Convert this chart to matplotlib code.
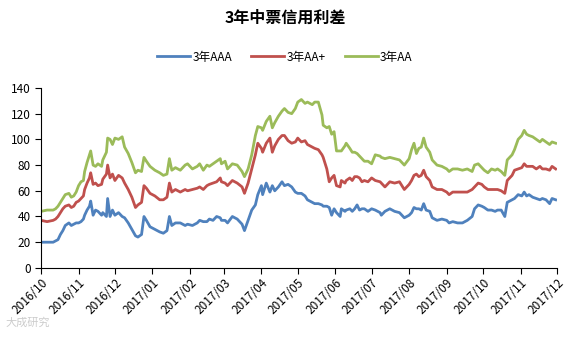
import pandas as pd
import matplotlib
matplotlib.use("Agg")
import matplotlib.pyplot as plt
import matplotlib.dates as mdates

plt.rcParams['font.family'] = ['Noto Sans CJK SC', 'DejaVu Sans']

# data (bp)
dates = [
    "2016-10-01", "2016-10-06", "2016-10-11", "2016-10-13", "2016-10-15", "2016-10-17",
    "2016-10-19", "2016-10-21", "2016-10-24", "2016-10-26", "2016-10-28", "2016-10-30",
    "2016-11-01", "2016-11-03", "2016-11-05", "2016-11-06", "2016-11-08", "2016-11-10",
    "2016-11-11", "2016-11-13", "2016-11-15", "2016-11-17", "2016-11-20", "2016-11-21",
    "2016-11-24", "2016-11-25", "2016-11-27", "2016-11-29", "2016-12-01", "2016-12-04",
    "2016-12-07", "2016-12-09", "2016-12-12", "2016-12-15", "2016-12-18", "2016-12-20",
    "2016-12-23", "2016-12-25", "2016-12-27", "2016-12-30", "2017-01-03", "2017-01-07",
    "2017-01-10", "2017-01-13", "2017-01-15", "2017-01-17", "2017-01-20", "2017-01-24",
    "2017-01-28", "2017-01-30", "2017-02-03", "2017-02-07", "2017-02-09", "2017-02-12",
    "2017-02-15", "2017-02-17", "2017-02-20", "2017-02-23", "2017-02-26", "2017-02-27",
    "2017-03-02", "2017-03-04", "2017-03-08", "2017-03-12", "2017-03-16", "2017-03-18",
    "2017-03-21", "2017-03-24", "2017-03-27", "2017-03-29", "2017-04-01", "2017-04-02",
    "2017-04-05", "2017-04-08", "2017-04-10", "2017-04-12", "2017-04-15", "2017-04-18",
    "2017-04-20", "2017-04-23", "2017-04-26", "2017-04-29", "2017-05-01", "2017-05-04",
    "2017-05-07", "2017-05-09", "2017-05-13", "2017-05-15", "2017-05-18", "2017-05-21",
    "2017-05-22", "2017-05-25", "2017-05-27", "2017-05-29", "2017-05-31", "2017-06-02",
    "2017-06-05", "2017-06-06", "2017-06-09", "2017-06-10", "2017-06-13", "2017-06-15",
    "2017-06-17", "2017-06-19", "2017-06-21", "2017-06-23", "2017-06-25", "2017-06-28",
    "2017-07-01", "2017-07-04", "2017-07-08", "2017-07-09", "2017-07-12", "2017-07-16",
    "2017-07-20", "2017-07-24", "2017-07-28", "2017-08-01", "2017-08-03", "2017-08-05",
    "2017-08-07", "2017-08-09", "2017-08-11", "2017-08-13", "2017-08-15", "2017-08-18",
    "2017-08-20", "2017-08-24", "2017-08-28", "2017-09-01", "2017-09-03", "2017-09-06",
    "2017-09-10", "2017-09-14", "2017-09-18", "2017-09-22", "2017-09-24", "2017-09-27",
    "2017-09-30", "2017-10-02", "2017-10-05", "2017-10-08", "2017-10-11", "2017-10-13",
    "2017-10-16", "2017-10-19", "2017-10-21", "2017-10-25", "2017-10-27", "2017-10-30",
    "2017-11-02", "2017-11-04", "2017-11-06", "2017-11-08", "2017-11-11", "2017-11-14",
    "2017-11-17", "2017-11-19", "2017-11-22", "2017-11-25", "2017-11-27", "2017-11-30",
]

aaa = [
    20, 20, 20, 21, 22, 26, 29, 33, 35, 33, 34, 35,
    35, 36, 38, 41, 45, 48, 52, 41, 45, 44, 41, 43,
    40, 54, 40, 45, 41, 43, 40, 39, 35, 30, 25, 24,
    26, 40, 37, 32, 30, 28, 27, 29, 40, 33, 35, 35,
    33, 34, 33, 35, 37, 36, 36, 38, 37, 40, 39, 37,
    37, 35, 40, 38, 34, 29, 37, 45, 49, 57, 64, 57,
    66, 59, 64, 60, 63, 67, 64, 65, 63, 59, 58, 58,
    56, 53, 51, 50, 50, 49, 48, 48, 47, 41, 46, 43,
    40, 46, 44, 45, 46, 44, 46, 49, 45, 46, 46, 44,
    46, 45, 43, 41, 44, 46, 44, 43, 39, 41, 43, 47,
    46, 46, 45, 50, 45, 44, 39, 37, 38, 37, 35, 36,
    35, 35, 37, 40, 46, 49, 48, 47, 45, 45, 44, 45,
    45, 40, 51, 53, 54, 57, 56, 59, 56, 57, 55, 54,
    53, 54, 53, 50, 54, 53,
]

aa_plus = [
    37, 36, 37, 38, 40, 43, 46, 48, 49, 47, 48, 51,
    52, 54, 56, 61, 66, 70, 74, 65, 66, 64, 65, 69,
    73, 80, 70, 73, 68, 72, 70, 66, 61, 55, 47, 49,
    51, 64, 62, 58, 56, 53, 53, 55, 66, 59, 61, 59,
    61, 60, 61, 62, 63, 61, 64, 65, 66, 67, 70, 67,
    66, 64, 68, 66, 63, 58, 66, 77, 88, 97, 93, 90,
    97, 101, 90, 95, 100, 103, 103, 99, 97, 98, 101, 98,
    99, 96, 94, 93, 92, 88, 86, 77, 67, 70, 72, 64,
    63, 68, 66, 68, 70, 68, 71, 71, 70, 67, 68, 67,
    70, 68, 67, 66, 63, 67, 66, 67, 61, 65, 68, 72,
    73, 71, 72, 76, 71, 68, 63, 61, 61, 59, 57, 59,
    59, 59, 59, 61, 63, 66, 65, 63, 61, 61, 61, 61,
    60, 58, 68, 72, 76, 77, 78, 81, 79, 79, 79, 77,
    79, 77, 77, 76, 79, 77,
]

aa = [
    44, 45, 45, 46, 48, 51, 54, 57, 58, 55, 56, 59,
    64, 67, 68, 75, 82, 88, 91, 80, 79, 81, 79, 84,
    90, 101, 100, 96, 101, 100, 102, 94, 89, 82, 74, 76,
    75, 86, 83, 79, 76, 74, 72, 73, 85, 76, 78, 76,
    80, 81, 77, 79, 81, 76, 80, 79, 81, 83, 85, 81,
    83, 77, 81, 80, 75, 71, 77, 88, 103, 110, 109, 107,
    114, 118, 109, 113, 118, 122, 124, 121, 120, 124, 129, 131,
    128, 129, 127, 129, 129, 119, 111, 109, 110, 104, 106, 91,
    91, 91, 95, 97, 93, 90, 90, 89, 87, 85, 83, 83,
    81, 88, 87, 86, 85, 86, 85, 84, 80, 85, 92, 97,
    89, 93, 94, 101, 94, 90, 84, 80, 79, 77, 75, 77,
    77, 76, 77, 75, 80, 81, 78, 76, 74, 77, 76, 77,
    75, 72, 84, 88, 92, 100, 103, 107, 104, 103, 102, 100,
    98, 100, 98, 96, 98, 97,
]

series_names = ["3年AAA", "3年AA+", "3年AA"]
series_colors = ["#4F81BD", "#C0504D", "#9BBB59"]

df = pd.DataFrame({"date": pd.to_datetime(dates), "AAA": aaa, "AA+": aa_plus, "AA": aa})

fig = plt.figure(figsize=(5.7, 3.37), dpi=100)
ax = fig.add_axes([0.072, 0.205, 0.905, 0.534])

for col, name, c in zip(["AAA", "AA+", "AA"], series_names, series_colors):
    ax.plot(df["date"], df[col], color=c, lw=2.0, label=name, solid_joinstyle='round')

ax.set_xlim(pd.Timestamp("2016-10-01"), pd.Timestamp("2017-12-01"))
ax.set_ylim(0, 140)
ax.set_yticks(range(0, 141, 20))
ax.xaxis.set_major_locator(mdates.MonthLocator())
ax.xaxis.set_major_formatter(mdates.DateFormatter("%Y/%m"))
for lbl in ax.get_xticklabels():
    lbl.set_rotation(45)
    lbl.set_ha("right")
    lbl.set_rotation_mode("anchor")
ax.tick_params(axis='both', labelsize=8.5, length=4, width=0.8, colors='black')
ax.tick_params(axis='x', pad=2)
for s in ["top", "right"]:
    ax.spines[s].set_visible(False)
for s in ["left", "bottom"]:
    ax.spines[s].set_linewidth(0.8)

fig.text(0.5, 1 - 18 / 337, "3年中票信用利差", ha="center", va="center",
         fontsize=11.5, fontweight="bold")
fig.legend(loc="center", bbox_to_anchor=(0.5, 1 - 57 / 337), ncol=3, frameon=False,
           fontsize=8.5, handlelength=2.8, columnspacing=1.6, handletextpad=0.2)

fig.text(0.01, 1 - 323 / 337, "大成研究", color="#cccccc", fontsize=8, va="center")

fig.savefig("out.png", dpi=100)
